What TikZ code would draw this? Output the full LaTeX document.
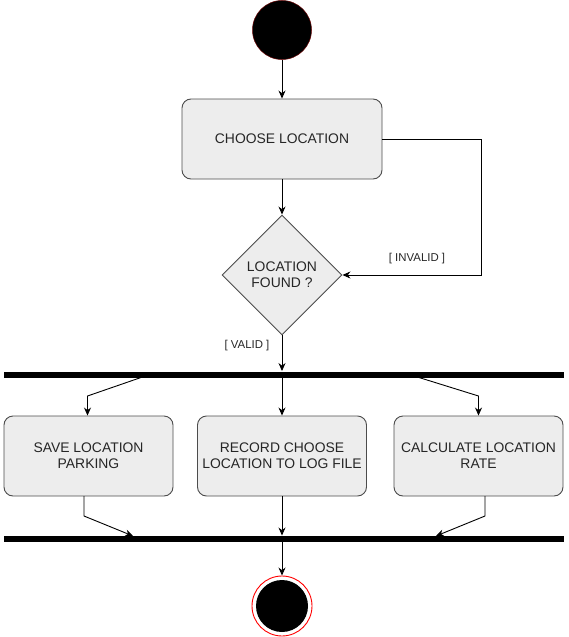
\documentclass[tikz,border=0pt]{standalone}
\usepackage{fontspec}
\setmainfont{Liberation Sans}
\usetikzlibrary{shapes.geometric,arrows.meta}

\begin{document}
\begin{tikzpicture}[x=1pt, y=-1pt,
        >={Stealth[length=8pt,width=7pt]},
        line width=0.9pt,
        actbox/.style={draw=black!70, fill=black!7, rounded corners=9pt, minimum height=80pt,
            align=center, text=black!85, font=\fontsize{13.9}{16}\selectfont},
        decision/.style={diamond, aspect=1, draw=black!70, fill=black!7, inner sep=0pt,
            minimum width=120pt, minimum height=120pt, align=center, text=black!85,
            font=\fontsize{13.9}{16}\selectfont},
        syncbar/.style={fill=black, inner sep=0pt, minimum width=560pt, minimum height=6pt},
        lbl/.style={text=black!85, font=\fontsize{11.4}{13}\selectfont}]
        \useasboundingbox (0,0) rectangle (568,637);

        % start
        \node[circle, fill=black, draw=black!60!red, line width=0.5pt, minimum size=59pt, inner sep=0pt] (start) at (282,30) {};

        % choose + decision
        \node[actbox, minimum width=200pt] (choose) at (282,139) {CHOOSE LOCATION};
        \node[decision] (found) at (282,275) {LOCATION\\FOUND ?};
        \draw[->] (start) -- (choose);
        \draw[->] (choose) -- (found);

        \coordinate (loop) at (481,275);
        \draw[->] (choose.east) -| (loop) -- (found.east);
        \node[lbl] (invalid) at (417,259) {[ INVALID ]};

        % fork
        \node[syncbar] (fork) at (283.5,374.5) {};
        \draw[->] (found.south) -- (found.south |- fork.north);
        \node[lbl] (valid) at (247,346) {[ VALID ]};

        \node[actbox, minimum width=169pt] (save) at (88.5,456) {SAVE LOCATION\\PARKING};
        \node[actbox, minimum width=169pt] (record) at (282,456) {RECORD CHOOSE\\LOCATION TO LOG FILE};
        \node[actbox, minimum width=169pt] (rate) at (478.5,456) {CALCULATE LOCATION\\RATE};

        \coordinate (f1) at (141,377.5);
        \coordinate (f1b) at (87.5,396);
        \coordinate (f3) at (419,377.5);
        \coordinate (f3b) at (478.5,396);
        \draw[->] (f1) -- (f1b) -- (f1b |- save.north);
        \draw[->] (fork.south -| record.north) -- (record.north);
        \draw[->] (f3) -- (f3b) -- (f3b |- rate.north);

        % join
        \node[syncbar] (join) at (283.5,539) {};
        \coordinate (j1) at (84,496);
        \coordinate (j1b) at (84,516);
        \coordinate (j1c) at (133,536);
        \coordinate (j3) at (485,496);
        \coordinate (j3b) at (485,516);
        \coordinate (j3c) at (436,536);
        \draw[->] (j1) -- (j1b) -- (j1c);
        \draw[->] (record.south) -- (record.south |- join.north);
        \draw[->] (j3) -- (j3b) -- (j3c);

        % end
        \node[circle, draw=red, fill=white, line width=0.9pt, minimum size=60pt, inner sep=0pt] (endring) at (282,606) {};
        \node[circle, fill=black, minimum size=52pt, inner sep=0pt] (enddot) at (282,606) {};
        \draw[->] (join.south -| endring.north) -- (endring.north);

    \end{tikzpicture}
\end{document}
